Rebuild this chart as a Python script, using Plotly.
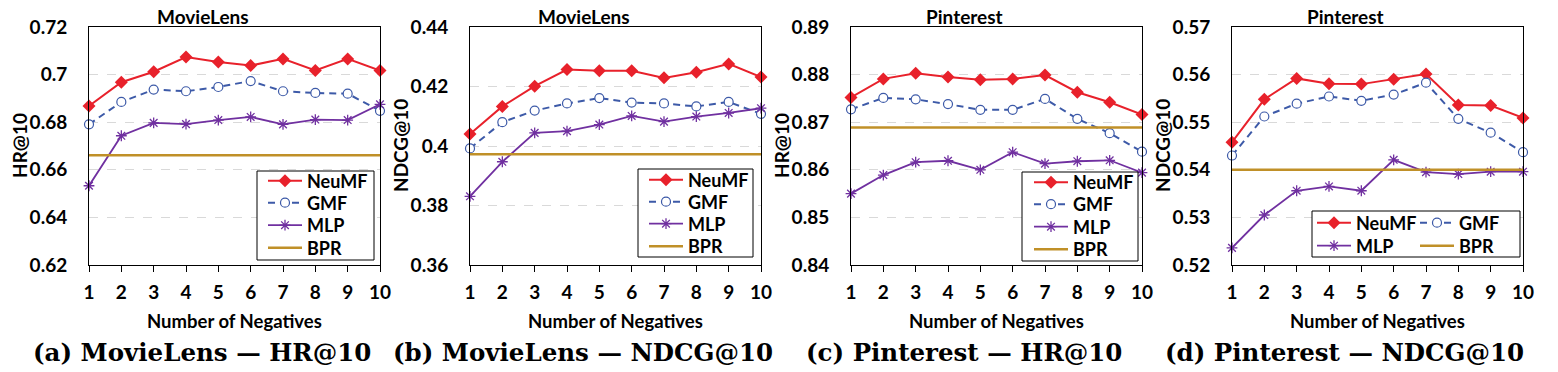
import plotly.graph_objects as go

W, H = 1558, 372

negatives = [1, 2, 3, 4, 5, 6, 7, 8, 9, 10]

# (a) MovieLens HR@10
ml_hr_neumf = [0.6868, 0.6968, 0.7012, 0.7074, 0.7053, 0.7038, 0.7066, 0.7017, 0.7066, 0.7017]
ml_hr_gmf = [0.6791, 0.6885, 0.6937, 0.6930, 0.6948, 0.6973, 0.6930, 0.6923, 0.6920, 0.6848]
ml_hr_mlp = [0.6533, 0.6743, 0.6797, 0.6792, 0.6809, 0.6822, 0.6791, 0.6811, 0.6809, 0.6875]
ml_hr_bpr = 0.6661

# (b) MovieLens NDCG@10
ml_ndcg_neumf = [0.4040, 0.4133, 0.4201, 0.4257, 0.4253, 0.4253, 0.4229, 0.4248, 0.4276, 0.4232]
ml_ndcg_gmf = [0.3992, 0.4080, 0.4119, 0.4143, 0.4161, 0.4146, 0.4143, 0.4133, 0.4148, 0.4108]
ml_ndcg_mlp = [0.3831, 0.3947, 0.4044, 0.4050, 0.4072, 0.4101, 0.4082, 0.4099, 0.4111, 0.4127]
ml_ndcg_bpr = 0.3972

# (c) Pinterest HR@10
pin_hr_neumf = [0.8752, 0.8791, 0.8803, 0.8795, 0.8789, 0.8791, 0.8799, 0.8763, 0.8742, 0.8716]
pin_hr_gmf = [0.8727, 0.8751, 0.8748, 0.8738, 0.8726, 0.8726, 0.8749, 0.8707, 0.8677, 0.8638]
pin_hr_mlp = [0.8550, 0.8589, 0.8616, 0.8619, 0.8600, 0.8637, 0.8613, 0.8618, 0.8620, 0.8594]
pin_hr_bpr = 0.8689

# (d) Pinterest NDCG@10
pin_ndcg_neumf = [0.5458, 0.5548, 0.5592, 0.5581, 0.5580, 0.5590, 0.5601, 0.5536, 0.5535, 0.5509]
pin_ndcg_gmf = [0.5430, 0.5512, 0.5539, 0.5554, 0.5545, 0.5558, 0.5583, 0.5507, 0.5478, 0.5437]
pin_ndcg_mlp = [0.5236, 0.5305, 0.5356, 0.5365, 0.5356, 0.5421, 0.5395, 0.5391, 0.5396, 0.5396]
pin_ndcg_bpr = 0.5400

panel_titles = ["MovieLens", "MovieLens", "Pinterest", "Pinterest"]
y_titles = ["HR@10", "NDCG@10", "HR@10", "NDCG@10"]
captions = ["(a) MovieLens — HR@10", "(b) MovieLens — NDCG@10",
            "(c) Pinterest — HR@10", "(d) Pinterest — NDCG@10"]
y_ranges = [(0.62, 0.72, 0.02), (0.36, 0.44, 0.02), (0.84, 0.89, 0.01), (0.52, 0.57, 0.01)]
x_title = "Number of Negatives"

panels = [
    (ml_hr_neumf, ml_hr_gmf, ml_hr_mlp, ml_hr_bpr),
    (ml_ndcg_neumf, ml_ndcg_gmf, ml_ndcg_mlp, ml_ndcg_bpr),
    (pin_hr_neumf, pin_hr_gmf, pin_hr_mlp, pin_hr_bpr),
    (pin_ndcg_neumf, pin_ndcg_gmf, pin_ndcg_mlp, pin_ndcg_bpr),
]

# layout geometry (pixels)
plot_left = [89, 470, 851, 1232]
plot_w = 291
plot_top, plot_bottom = 27, 265

# legend boxes (x0, x1, y0, y1) and entry positions (x, y) per series
legend_boxes = [(257, 374, 171, 260), (638, 753, 169, 257), (1022, 1138, 172, 261), (1312, 1520, 211, 257)]
legend_entries = [
    [(263, 181), (263, 203), (263, 225.5), (263, 248)],
    [(644, 180), (644, 202), (644, 224), (644, 246.5)],
    [(1029, 182.5), (1029, 204.5), (1029, 227), (1029, 249.5)],
    [(1312, 223), (1415, 223), (1312, 246), (1415, 246)],
]

RED = "#e8212b"
BLUE = "#3d5aa8"
PURPLE = "#7030a0"
GOLD = "#c09028"
SANS = "Lato"

def px(x):
    return x / W

def py(y):
    return 1 - y / H

fig = go.Figure()
legend_font = dict(family=SANS, size=18, weight="bold", color="black")
layout_legends = {}
leg_idx = 0

def next_legend(pos):
    global leg_idx
    leg_idx += 1
    name = "legend" if leg_idx == 1 else f"legend{leg_idx}"
    layout_legends[name] = dict(x=px(pos[0]), y=py(pos[1]), xanchor="left", yanchor="middle",
                                font=legend_font, bgcolor="rgba(0,0,0,0)", borderwidth=0,
                                itemwidth=34)
    return name

for i, (neumf, gmf, mlp, bpr) in enumerate(panels):
    xa = "x" if i == 0 else f"x{i+1}"
    ya = "y" if i == 0 else f"y{i+1}"
    ent = legend_entries[i]
    fig.add_trace(go.Scatter(x=negatives, y=neumf, name="NeuMF", mode="lines+markers",
                             line=dict(color=RED, width=2),
                             marker=dict(symbol="diamond", size=10, color=RED),
                             xaxis=xa, yaxis=ya, legend=next_legend(ent[0]), cliponaxis=False))
    fig.add_trace(go.Scatter(x=negatives, y=gmf, name="GMF", mode="lines+markers",
                             line=dict(color=BLUE, width=2, dash="7px,5px"),
                             marker=dict(symbol="circle", size=9, color="white",
                                         line=dict(color=BLUE, width=1.2)),
                             xaxis=xa, yaxis=ya, legend=next_legend(ent[1]), cliponaxis=False))
    fig.add_trace(go.Scatter(x=negatives, y=mlp, name="MLP", mode="lines+markers",
                             line=dict(color=PURPLE, width=1.8),
                             marker=dict(symbol="asterisk-open", size=9,
                                         line=dict(color=PURPLE, width=1.3)),
                             xaxis=xa, yaxis=ya, legend=next_legend(ent[2]), cliponaxis=False))
    fig.add_trace(go.Scatter(x=[negatives[0], negatives[-1]], y=[bpr, bpr], name="BPR", mode="lines",
                             line=dict(color=GOLD, width=2.5),
                             xaxis=xa, yaxis=ya, legend=next_legend(ent[3])))

layout = dict(
    width=W, height=H,
    margin=dict(l=0, r=0, t=0, b=0),
    paper_bgcolor="white", plot_bgcolor="white",
    font=dict(family=SANS, color="black"),
    showlegend=True,
)
layout.update(layout_legends)

tick_font = dict(family=SANS, size=19, weight="bold", color="black")
for i in range(4):
    xk = "xaxis" if i == 0 else f"xaxis{i+1}"
    yk = "yaxis" if i == 0 else f"yaxis{i+1}"
    ysfx = "y" if i == 0 else f"y{i+1}"
    xsfx = "x" if i == 0 else f"x{i+1}"
    lo, hi, dt = y_ranges[i]
    layout[xk] = dict(
        domain=[px(plot_left[i]), px(plot_left[i] + plot_w)],
        anchor=ysfx, range=[1, 10], tickmode="array", tickvals=negatives,
        showgrid=False, zeroline=False, showline=True, linecolor="black", linewidth=1,
        mirror=True, ticks="outside", ticklen=6, tickcolor="black", tickwidth=1,
        ticklabelstandoff=4, automargin=False, tickfont=tick_font,
    )
    layout[yk] = dict(
        domain=[py(plot_bottom), py(plot_top)],
        anchor=xsfx, range=[lo, hi], dtick=dt, tick0=lo,
        showgrid=True, gridcolor="#d9d9d9", griddash="dash", gridwidth=1,
        zeroline=False, showline=True, linecolor="black", linewidth=1, mirror=True,
        ticks="", ticklabelstandoff=17, automargin=False, tickfont=tick_font,
    )

layout["shapes"] = [dict(type="rect", xref="paper", yref="paper",
                         x0=px(b[0]), x1=px(b[1]), y0=py(b[3]), y1=py(b[2]),
                         line=dict(color="black", width=1), fillcolor="white", layer="above")
                    for b in legend_boxes]

annotations = []
for i in range(4):
    cx = plot_left[i] + plot_w / 2
    annotations.append(dict(text=panel_titles[i], x=px(cx - 32), y=py(17), xref="paper", yref="paper",
                            showarrow=False, xanchor="center", yanchor="middle",
                            font=dict(family=SANS, size=19, weight="bold", color="black")))
    annotations.append(dict(text=y_titles[i], x=px(plot_left[i] - 70), y=py((plot_top + plot_bottom) / 2),
                            xref="paper", yref="paper", showarrow=False, textangle=-90,
                            xanchor="center", yanchor="middle",
                            font=dict(family=SANS, size=19, weight="bold", color="black")))
    annotations.append(dict(text=x_title, x=px(cx), y=py(321), xref="paper", yref="paper",
                            showarrow=False, xanchor="center", yanchor="middle",
                            font=dict(family=SANS, size=18.5, weight="bold", color="black")))
    annotations.append(dict(text=captions[i], x=px(cx - 33), y=py(352), xref="paper", yref="paper",
                            showarrow=False, xanchor="center", yanchor="middle",
                            font=dict(family="DejaVu Serif", size=24.5, weight="bold", color="black")))
layout["annotations"] = annotations

fig.update_layout(**layout)
fig.write_html("out.html", config={"displayModeBar": False},
               post_script="document.body.style.margin='0';document.body.style.overflow='hidden';")
